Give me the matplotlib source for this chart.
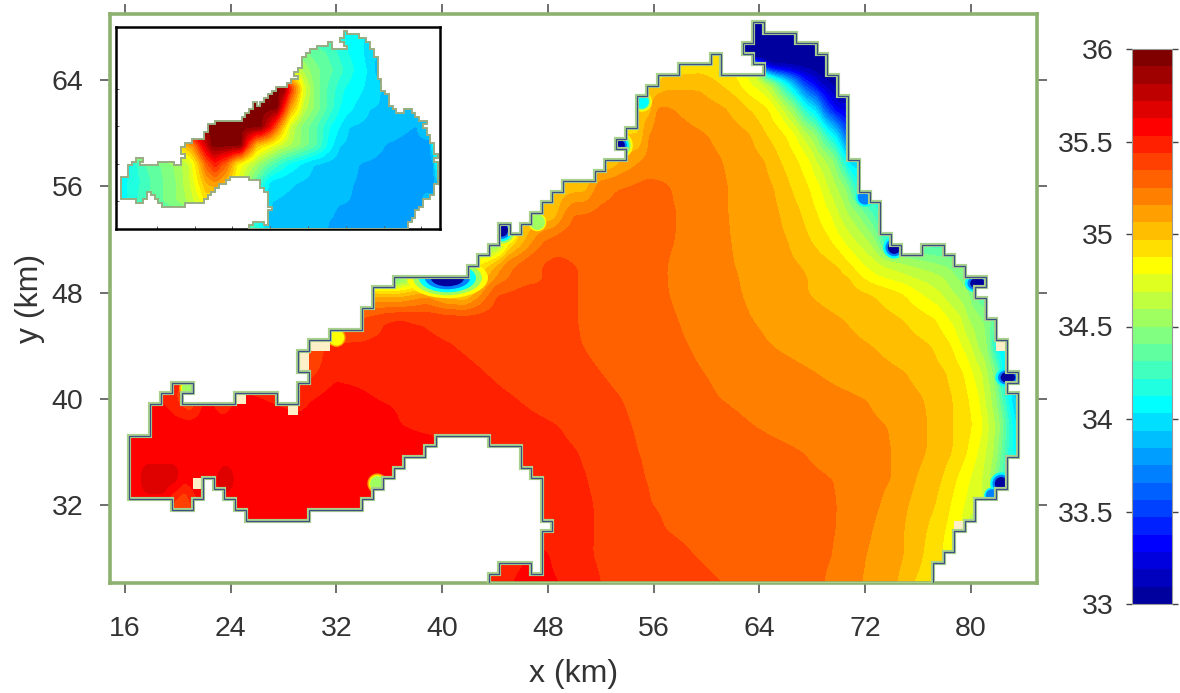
"""Surface salinity map of the bay with the inset of the other period, colour bar 33-36."""

import matplotlib
matplotlib.use("Agg")
import matplotlib.pyplot as plt
from matplotlib.colors import BoundaryNorm, ListedColormap
from matplotlib.patches import Ellipse, Polygon, Rectangle

import numpy as np

plt.rcParams["font.family"] = ["Liberation Sans", "DejaVu Sans"]

OUT_PNG = "out.png"

# Model grid: 0.8 km cells, coast is traced in cell indices.
GRID_X0 = 16.33
GRID_Y0 = 26.0
GRID_DX = 0.8

COAST_I = [34, 34, 35, 35, 38, 38, 39, 39, 40, 40, 39, 39, 38, 38, 37, 37, 34, 34, 29, 29, 28, 28, 26, 26, 25, 25,
           24, 24, 23, 23, 22, 22, 17, 17, 11, 11, 10, 10, 9, 9, 8, 8, 7, 7, 6, 6, 4, 4, 0, 0, 2, 2, 3, 3, 4, 4,
           6, 6, 5, 5, 10, 10, 14, 14, 16, 16, 17, 17, 16, 16, 17, 17, 19, 19, 22, 22, 23, 23, 25, 25, 32, 32, 33, 33,
           34, 34, 35, 35, 36, 36, 37, 37, 38, 38, 39, 39, 40, 40, 41, 41, 44, 44, 45, 45, 47, 47, 46, 46, 47, 47,
           48, 48, 49, 49, 50, 50, 52, 52, 55, 55, 56, 56, 60, 60, 59, 59, 58, 58, 59, 59, 60, 60, 63, 63, 65, 65,
           66, 66, 67, 67, 68, 68, 69, 69, 70, 70, 71, 71, 72, 72, 73, 73, 75, 75, 77, 77, 78, 78, 79, 79, 81, 81,
           80, 80, 81, 81, 82, 82, 83, 83, 84, 84, 83, 83, 84, 84, 83, 83, 82, 82, 80, 80, 79, 79, 78, 78, 77, 77,
           76, 76]
COAST_J = [0, 1, 1, 2, 2, 1, 1, 5, 5, 6, 6, 10, 10, 11, 11, 13, 13, 14, 14, 13, 13, 12, 12, 11, 11, 10,
           10, 9, 9, 8, 8, 7, 7, 6, 6, 7, 7, 8, 8, 9, 9, 10, 10, 8, 8, 7, 7, 8, 8, 14, 14, 17, 17, 18, 18, 19,
           19, 18, 18, 17, 17, 18, 18, 17, 17, 19, 19, 20, 20, 22, 22, 23, 23, 24, 24, 26, 26, 28, 28, 29, 29, 30, 30, 31,
           31, 32, 32, 34, 34, 33, 33, 34, 34, 35, 35, 36, 36, 37, 37, 38, 38, 39, 39, 40, 40, 41, 41, 42, 42, 43,
           43, 46, 46, 47, 47, 48, 48, 49, 49, 50, 50, 48, 48, 49, 49, 50, 50, 51, 51, 53, 53, 52, 52, 51, 51, 50,
           50, 48, 48, 46, 46, 40, 40, 37, 37, 36, 36, 33, 33, 32, 32, 31, 31, 32, 32, 31, 31, 30, 30, 29, 29, 28,
           28, 27, 27, 25, 25, 23, 23, 20, 20, 19, 19, 18, 18, 12, 12, 9, 9, 8, 8, 6, 6, 5, 5, 3, 3, 2,
           2, 0]

# Cells left without a value on the shore.
CREAM_I = [16, 16, 17, 18, 10, 15, 6, 82, 78]
CREAM_J = [20, 21, 22, 22, 17, 16, 9, 22, 5]

# Main map: salinity read along rows of constant y.
MAIN_Y = [26, 28, 30, 32, 34, 36, 38, 40, 42, 44, 46, 48, 49.2, 50, 52, 54, 56, 58, 60, 62, 64, 65, 65.2, 66, 69]
MAIN_X = [
    [44.4, 45.3, 47.0, 48.9, 51.9, 61.2, 68.9, 71.7, 74.4, 75.5, 77.1],
    [44.4, 47.8, 48.1, 51.3, 59.1, 69.5, 72.0, 74.9, 76.3, 77.8, 78.4],
    [46.6, 51.4, 56.8, 69.8, 72.5, 74.9, 76.6, 78.0, 79.2, 79.9],
    [16.4, 19.0, 19.6, 20.5, 21.3, 22.1, 33.8, 36.8, 47.5, 51.4, 55.7, 69.9, 73.1, 75.2, 77.3, 78.4, 79.5, 80.4],
    [16.4, 17.0, 17.6, 19.8, 20.3, 22.1, 22.6, 23.6, 24.6, 36.8, 47.5, 50.9, 55.2, 69.6, 74.0, 75.8, 77.8, 78.9, 79.9,
     80.8, 81.4, 81.7, 82.6],
    [16.3, 39.1, 40.2, 45.9, 50.2, 54.7, 67.3, 74.0, 76.6, 78.6, 79.7, 80.5, 81.1, 81.7, 82.0, 82.8, 83.5],
    [17.9, 36.0, 36.8, 48.7, 54.2, 63.4, 73.7, 76.7, 78.6, 80.1, 80.9, 81.3, 81.8, 82.2, 82.9, 83.5],
    [17.9, 19.3, 20.9, 22.1, 23.4, 24.7, 29.2, 30.2, 31.5, 34.8, 45.5, 53.5, 60.9, 72.1, 76.4, 78.6, 79.8, 80.6,
     81.0, 81.5, 81.9, 82.6, 83.1, 83.5],
    [17.9, 30.0, 31.1, 31.9, 35.3, 43.1, 51.9, 59.7, 68.2, 75.0, 78.1, 79.4, 80.1, 80.8, 81.2, 81.7, 82.2, 82.6],
    [30.0, 31.1, 36.8, 40.7, 50.5, 58.6, 64.8, 72.4, 77.0, 78.5, 79.2, 80.0, 80.4, 81.2, 81.9, 82.6],
    [33.9, 35.8, 36.8, 37.7, 50.2, 57.8, 63.4, 70.3, 74.8, 77.3, 78.3, 79.3, 79.7, 80.9, 81.9],
    [34.7, 36.8, 38.8, 40.2, 41.7, 42.6, 43.6, 44.2, 46.6, 50.2, 57.1, 62.6, 67.5, 72.4, 74.8, 76.1, 77.6, 78.6,
     79.8, 80.7],
    [36.3, 38.3, 39.8, 41.8, 42.7, 43.6, 44.7, 45.9, 47.8, 48.9, 50.2, 57.0, 62.4, 67.7, 70.8, 71.6, 72.8, 75.2,
     77.9, 78.8, 80.3],
    [42.7, 43.6, 44.4, 45.1, 46.9, 48.5, 50.2, 57.0, 62.1, 67.1, 69.9, 70.9, 71.9, 73.5, 75.6, 78.0, 79.8],
    [44.2, 45.1, 45.9, 47.0, 47.8, 48.9, 53.9, 57.6, 61.8, 66.1, 67.8, 69.3, 70.2, 71.1, 72.1, 72.7, 73.5],
    [48.4, 49.3, 50.0, 53.4, 57.8, 61.6, 65.5, 67.1, 68.3, 69.3, 69.9, 70.6, 71.4, 73.1],
    [50.8, 51.9, 53.4, 55.7, 57.3, 61.6, 65.1, 66.3, 67.7, 68.6, 69.1, 69.8, 70.5, 71.2, 72.1],
    [52.8, 53.8, 55.1, 58.0, 61.2, 64.4, 65.5, 66.9, 67.8, 68.2, 69.0, 69.6, 70.3, 70.8],
    [55.0, 55.2, 55.6, 56.5, 60.0, 63.3, 64.4, 65.9, 66.7, 67.1, 67.6, 68.2, 69.3, 69.7, 70.3, 70.8],
    [55.7, 55.9, 56.2, 56.8, 57.4, 61.4, 63.0, 64.6, 65.2, 65.7, 66.0, 66.5, 67.5, 68.3, 69.0, 69.9],
    [56.3, 57.1, 59.5, 60.6, 62.3, 63.0, 64.0, 64.5, 64.9, 65.8, 66.5, 67.4, 68.6, 69.7],
    [61.4, 63.7, 64.5, 65.0],
    [61.4, 62.0],
    [61.4, 62.0],
    [61.4, 62.0],
]
MAIN_S = [
    [35.48, 35.531, 35.56, 35.531, 35.438, 35.344, 35.25, 35.156, 35.063, 34.969, 34.9],
    [35.5, 35.55, 35.531, 35.438, 35.344, 35.25, 35.156, 35.063, 34.969, 34.875, 34.781],
    [35.5, 35.438, 35.344, 35.25, 35.156, 35.063, 34.969, 34.875, 34.781, 34.6],
    [35.58, 35.58, 35.4, 35.3, 35.5, 35.58, 35.58, 35.56, 35.5, 35.438, 35.344, 35.25, 35.156, 35.063, 34.969,
     34.875, 34.781, 34.688],
    [35.58, 35.6, 35.68, 35.68, 35.58, 35.58, 35.6, 35.68, 35.6, 35.56, 35.5, 35.438, 35.344, 35.25, 35.156, 35.063,
     34.969, 34.875, 34.781, 34.688, 34.594, 34.5, 34.2],
    [35.57, 35.56, 35.531, 35.49, 35.438, 35.344, 35.25, 35.156, 35.063, 34.969, 34.875, 34.781, 34.688, 34.594,
     34.5, 34.2, 34.05],
    [35.58, 35.56, 35.531, 35.438, 35.344, 35.25, 35.156, 35.063, 34.969, 34.875, 34.781, 34.688, 34.594, 34.5,
     34.2, 34.0],
    [35.55, 35.5, 35.3, 35.56, 35.45, 35.56, 35.49, 35.531, 35.56, 35.531, 35.438, 35.344, 35.25, 35.156, 35.063,
     34.969, 34.875, 34.781, 34.688, 34.594, 34.5, 34.2, 34.0, 33.85],
    [35.5, 35.4, 35.46, 35.515, 35.515, 35.438, 35.344, 35.25, 35.156, 35.063, 34.969, 34.875, 34.781, 34.688,
     34.594, 34.5, 34.2, 34.0],
    [35.3, 35.438, 35.46, 35.438, 35.344, 35.25, 35.156, 35.063, 34.969, 34.875, 34.781, 34.688, 34.594, 34.5,
     34.1, 34.0],
    [35.36, 35.438, 35.46, 35.438, 35.344, 35.25, 35.156, 35.063, 34.969, 34.875, 34.781, 34.688, 34.594, 34.5,
     34.35],
    [35.0, 34.97, 35.1, 34.95, 34.9, 35.063, 35.25, 35.344, 35.38, 35.344, 35.25, 35.156, 35.063, 34.969, 34.875,
     34.781, 34.688, 34.594, 34.5, 34.3],
    [34.15, 34.5, 34.3, 34.4, 34.9, 35.063, 35.2, 35.28, 35.34, 35.37, 35.344, 35.25, 35.156, 35.063, 34.969,
     34.875, 34.781, 34.688, 34.594, 34.5, 34.4],
    [34.9, 35.0, 35.156, 35.25, 35.344, 35.37, 35.344, 35.25, 35.156, 35.063, 34.969, 34.875, 34.781, 34.688,
     34.594, 34.5, 34.4],
    [34.3, 34.8, 34.97, 35.156, 35.25, 35.3, 35.3, 35.25, 35.156, 35.063, 34.969, 34.875, 34.781, 34.688, 34.594,
     34.5, 34.2],
    [34.97, 35.156, 35.25, 35.28, 35.25, 35.156, 35.063, 34.969, 34.875, 34.781, 34.688, 34.594, 34.5, 34.2],
    [35.0, 35.2, 35.25, 35.28, 35.25, 35.156, 35.063, 34.969, 34.875, 34.781, 34.688, 34.594, 34.5, 34.2, 34.05],
    [34.97, 35.063, 35.156, 35.22, 35.156, 35.063, 34.969, 34.875, 34.781, 34.688, 34.594, 34.5, 34.2, 33.95],
    [34.95, 35.063, 35.156, 35.2, 35.156, 35.063, 34.969, 34.875, 34.781, 34.688, 34.594, 34.5, 34.1, 34.0, 33.7,
     33.4],
    [35.0, 35.063, 35.156, 35.17, 35.156, 35.063, 34.969, 34.875, 34.781, 34.688, 34.594, 34.5, 34.1, 33.9, 33.5,
     33.2],
    [34.95, 35.0, 35.03, 34.969, 34.875, 34.781, 34.688, 34.594, 34.5, 34.1, 33.8, 33.4, 33.1, 33.02],
    [34.9, 34.7, 33.3, 33.02],
    [34.95, 33.02],
    [34.95, 33.02],
    [34.95, 33.02],
]

# Small fresh spots hugging the shore of the main map.
SPOT_X = [20.9, 35.1, 32.0, 40.4, 44.5, 47.2, 53.4, 55.1, 72.0, 74.2, 80.5, 82.8, 82.3, 81.6]
SPOT_Y = [40.8, 33.6, 44.6, 49.1, 52.7, 53.3, 59.1, 62.4, 55.2, 51.4, 48.7, 41.6, 33.6, 32.7]
SPOT_RX = [0.4, 0.38, 0.35, 1.8, 0.7, 0.4, 0.6, 0.45, 0.6, 0.7, 0.8, 0.8, 0.7, 0.5]
SPOT_RY = [0.4, 0.38, 0.35, 0.9, 0.7, 0.4, 0.6, 0.45, 0.6, 0.7, 0.6, 0.6, 0.7, 0.5]
SPOT_CORE = [34.3, 34.3, 34.85, 33.02, 33.02, 34.2, 33.02, 33.9, 33.6, 33.02, 33.02, 33.02, 33.02, 33.6]
SPOT_AROUND = [35.5, 35.5, 35.4, 34.9, 35.0, 35.0, 35.0, 35.0, 34.4, 34.4, 34.4, 34.2, 34.4, 34.4]
RING_SCALE = [2.0, 1.7, 1.45, 1.2, 0.95, 0.7]
RING_S = [35.1, 34.85, 34.5, 34.1, 33.7, 33.02]

# Inset map, read the same way.
INSET_Y = [26, 28, 32, 36, 40, 44, 48, 52, 56, 60, 64, 69]
INSET_X = [
    [44.4, 46.5, 47.6, 60.6, 62.0, 76.9],
    [44.4, 47.6, 61.3, 62.7, 75.4, 77.6],
    [16.5, 19.0, 21.1, 23.9, 29.6, 33.1, 34.5, 48.3, 65.2, 66.6, 79.7, 80.7],
    [16.5, 19.0, 22.5, 28.2, 31.3, 33.1, 34.5, 36.3, 38.0, 39.8, 47.6, 48.6, 53.2, 66.3, 67.7, 82.5, 83.3],
    [18.3, 21.1, 24.6, 28.9, 31.0, 32.8, 34.5, 36.3, 38.8, 40.9, 43.0, 47.2, 48.6, 51.5, 54.3, 57.1, 67.3, 82.5, 83.3],
    [29.6, 31.7, 33.8, 35.9, 41.6, 43.0, 45.1, 47.2, 50.1, 54.3, 57.8, 59.9, 61.3, 62.7, 72.6, 81.8, 82.9],
    [34.5, 45.8, 48.0, 49.7, 50.8, 52.2, 54.3, 57.8, 60.6, 62.7, 64.5, 79.0, 81.1],
    [43.7, 49.3, 50.8, 52.2, 53.6, 55.0, 57.1, 59.9, 62.7, 65.6, 69.1, 74.0, 75.4],
    [49.3, 50.8, 52.5, 53.9, 55.0, 57.1, 59.9, 63.5, 67.7, 70.5, 71.9],
    [54.3, 57.1, 61.3, 65.6, 68.4, 69.8, 70.5],
    [55.0, 59.9, 64.2, 67.7, 68.7, 70.5],
    [62.7, 68.4],
]
INSET_S = [
    [34.25, 34.05, 33.94, 33.84, 33.8, 33.8],
    [34.2, 33.9, 33.84, 33.8, 33.8, 33.84],
    [34.1, 34.15, 34.3, 34.35, 34.55, 34.75, 34.9, 33.94, 33.84, 33.8, 33.8, 33.88],
    [34.1, 34.15, 34.3, 34.5, 34.7, 34.9, 35.06, 35.15, 35.06, 34.9, 34.03, 33.98, 33.94, 33.84, 33.8, 33.78, 33.92],
    [34.1, 34.3, 34.4, 34.55, 34.7, 34.97, 35.3, 35.5, 35.25, 34.875, 34.72, 34.41, 34.31, 34.125, 34.03, 33.94,
     33.84, 33.8, 34.1],
    [35.0, 35.16, 35.6, 35.95, 35.95, 35.5, 35.0, 34.875, 34.69, 34.5, 34.31, 34.125, 34.03, 33.94, 33.84, 33.8,
     34.2],
    [35.95, 35.95, 35.6, 35.2, 34.97, 34.69, 34.5, 34.31, 34.125, 34.03, 33.94, 33.84, 33.94],
    [35.95, 35.95, 35.5, 35.1, 34.9, 34.65, 34.5, 34.31, 34.125, 34.03, 33.94, 33.92, 33.94],
    [35.95, 35.9, 35.4, 35.06, 34.75, 34.5, 34.31, 34.125, 34.03, 33.96, 33.92],
    [34.6, 34.45, 34.31, 34.125, 34.03, 33.94, 33.92],
    [34.41, 34.3, 34.125, 34.03, 33.96, 33.94],
    [34.125, 34.03],
]

MAP_X_TICKS = [16, 24, 32, 40, 48, 56, 64, 72, 80]
MAP_Y_TICKS = [32, 40, 48, 56, 64]
CBAR_TICKS = [33, 33.5, 34, 34.5, 35, 35.5, 36]
CBAR_LABELS = ["33", "33.5", "34", "34.5", "35", "35.5", "36"]

W, H = 1180, 693
TEXT_COL = "#333333"
N_COLORS = 32


def matlab_jet(m):
    # matplotlib's jet runs its ramps differently, the 32 bands here have pure red at 35.5
    n = int(np.ceil(m / 4))
    ramp = np.concatenate([np.arange(1, n + 1) / n, np.ones(n - 1), np.arange(n, 0, -1) / n])
    start = int(np.ceil(n / 2)) - (1 if m % 4 == 1 else 0)
    rgb = np.zeros((m, 3))
    for channel, offset in zip(range(3), (start + n, start, start - n)):
        for k, value in enumerate(ramp):
            if 0 <= k + offset < m:
                rgb[k + offset, channel] = value
    return rgb


LEVELS = np.linspace(33, 36, N_COLORS + 1)
CMAP = ListedColormap(matlab_jet(N_COLORS))
NORM = BoundaryNorm(LEVELS, N_COLORS)


def px_axes(fig, left, top, right, bottom, **kw):
    return fig.add_axes([left / W, 1 - bottom / H, (right - left) / W, (bottom - top) / H], **kw)


def coast_xy():
    return np.column_stack([GRID_X0 + GRID_DX * np.array(COAST_I), GRID_Y0 + GRID_DX * np.array(COAST_J)])


def draw_field(ax, row_y, row_x, row_s, clip):
    # rows carry their own break points, put them on one grid for contourf and
    # take the kinks between rows out with a short running mean
    xx = np.arange(14, 86, 0.1)
    yy = np.arange(26, 69, 0.1)
    rows = np.array([np.interp(xx, x, s) for x, s in zip(row_x, row_s)])
    field = np.array([np.interp(yy, row_y, rows[:, k]) for k in range(len(xx))]).T
    kernel_y = np.ones(13) / 13
    kernel_x = np.ones(5) / 5
    pad_y = np.pad(field, ((6, 6), (0, 0)), mode="edge")
    field = np.apply_along_axis(lambda c: np.convolve(c, kernel_y, mode="valid"), 0, pad_y)
    pad_x = np.pad(field, ((0, 0), (2, 2)), mode="edge")
    field = np.apply_along_axis(lambda r: np.convolve(r, kernel_x, mode="valid"), 1, pad_x)
    cs = ax.contourf(xx, yy, field, levels=LEVELS, cmap=CMAP, norm=NORM, extend="both")
    cs.set_edgecolor("face")
    cs.set_linewidth(0.3)
    cs.set_clip_path(clip)


def draw_spots(ax, clip):
    for x, y, rx, ry, core, around in zip(SPOT_X, SPOT_Y, SPOT_RX, SPOT_RY, SPOT_CORE, SPOT_AROUND):
        for scale, s in zip(RING_SCALE, RING_S):
            if s > around or s < core:
                continue
            e = Ellipse((x, y), 2 * rx * scale, 2 * ry * scale, color=CMAP(NORM(s)), lw=0, zorder=2)
            ax.add_patch(e)
            e.set_clip_path(clip)


def main():
    fig = plt.figure(figsize=(W / 100, H / 100), dpi=100)

    ax = px_axes(fig, 110, 14, 1037, 583)
    ax.set_xlim(14.87, 85.0)
    ax.set_ylim(26.1, 69.0)
    clip = Polygon(coast_xy(), closed=True, fc="none", ec="none")
    ax.add_patch(clip)
    draw_field(ax, MAIN_Y, MAIN_X, MAIN_S, clip)
    draw_spots(ax, clip)
    for i, j in zip(CREAM_I, CREAM_J):
        ax.add_patch(Rectangle((GRID_X0 + GRID_DX * i, GRID_Y0 + GRID_DX * j), GRID_DX, GRID_DX,
                               fc="#fdf0c8", ec="none", zorder=3))
    ax.add_patch(Polygon(coast_xy(), closed=True, fc="none", ec="#a9d18e", lw=3.0, zorder=4))
    ax.add_patch(Polygon(coast_xy(), closed=True, fc="none", ec="#3f4f86", lw=0.9, zorder=5))

    ax.set_xticks(MAP_X_TICKS)
    ax.set_yticks(MAP_Y_TICKS)
    ax.tick_params(direction="out", top=True, right=True, length=7, width=1.2, color="#555555",
                   labelsize=20.5, labelcolor=TEXT_COL)
    ax.tick_params(axis="x", pad=17)
    ax.tick_params(axis="y", pad=12)
    for spine in ax.spines.values():
        spine.set_color("#8db26f")
        spine.set_linewidth(2.6)
    ax.set_xlabel("x (km)", fontsize=23, color=TEXT_COL, labelpad=12)
    ax.set_ylabel("y (km)", fontsize=23, color=TEXT_COL, labelpad=5)

    inset = px_axes(fig, 116, 27, 440, 229, zorder=5)
    inset.set_xlim(15.34, 83.95)
    inset.set_ylim(26.0, 69.2)
    clip2 = Polygon(coast_xy(), closed=True, fc="none", ec="none")
    inset.add_patch(clip2)
    draw_field(inset, INSET_Y, INSET_X, INSET_S, clip2)
    inset.add_patch(Polygon(coast_xy(), closed=True, fc="none", ec="#98ad82", lw=1.4, zorder=4))
    inset.set_xticks(MAP_X_TICKS[1:])
    inset.set_yticks(MAP_Y_TICKS[:-1])
    inset.tick_params(direction="in", length=2, width=0.7, color="#555555", labelbottom=False, labelleft=False)
    for spine in inset.spines.values():
        spine.set_color("black")
        spine.set_linewidth(1.8)

    cax = px_axes(fig, 1132, 49, 1172, 604)
    sm = plt.cm.ScalarMappable(norm=NORM, cmap=CMAP)
    cbar = fig.colorbar(sm, cax=cax, ticks=CBAR_TICKS, spacing="proportional", drawedges=False)
    cbar.ax.minorticks_off()
    cbar.set_ticklabels(CBAR_LABELS)
    cbar.ax.tick_params(left=True, right=True, labelleft=True, labelright=False, direction="out", length=4.5,
                        width=1.0, color="#444444", labelsize=20.5, labelcolor=TEXT_COL, pad=9)
    cbar.outline.set_edgecolor("#999999")
    cbar.outline.set_linewidth(0.8)

    fig.savefig(OUT_PNG, dpi=100)


if __name__ == "__main__":
    main()
